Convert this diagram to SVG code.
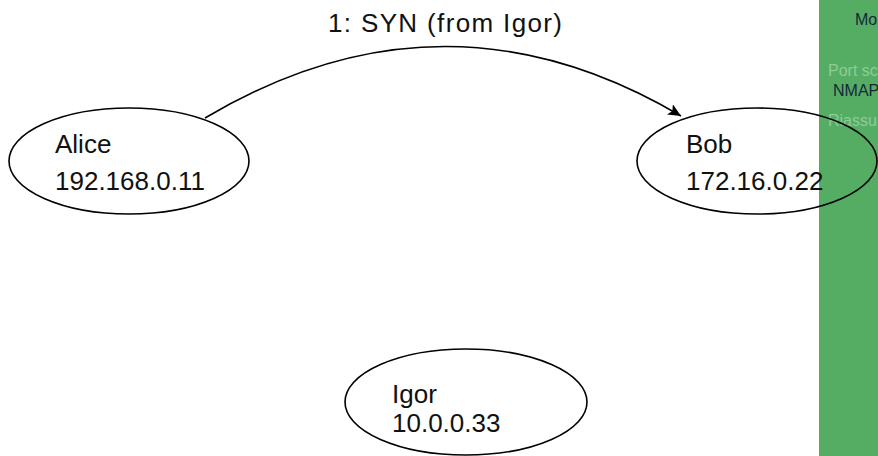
<svg xmlns="http://www.w3.org/2000/svg" width="878" height="456" viewBox="0 0 878 456">
  <style>
    .node { fill: none; stroke: #000; stroke-width: 1.6; }
    .lbl { font-family: "Liberation Sans", Arial, sans-serif; font-size: 26px; fill: #111; }
    .edge { fill: none; stroke: #000; stroke-width: 1.6; }
    .side { font-family: "Liberation Sans", Arial, sans-serif; font-size: 16px; }
    .side-on { fill: #14283a; }
    .side-off { fill: #8dcc97; }
  </style>
  <defs>
    <marker id="arrow" markerUnits="userSpaceOnUse" markerWidth="16" markerHeight="12" refX="13" refY="6" orient="auto">
      <path d="M0,0 L13,6 L0,12 L3,6 Z" fill="#000"/>
    </marker>
  </defs>

  <!-- navigation sidebar -->
  <g id="sidebar">
    <rect x="819" y="0" width="59" height="456" fill="#55ad64"/>
    <text class="side side-on" x="855" y="25">Mo</text>
    <text class="side side-off" x="828" y="76">Port sc</text>
    <text class="side side-on" x="833" y="96" font-size="14">NMAP</text>
    <text class="side side-off" x="828" y="126">Riassun</text>
  </g>

  <!-- connectors -->
  <g id="edges">
    <path class="edge" d="M205,118 Q444,-24 681,116" marker-end="url(#arrow)"/>
    <text class="lbl" x="328" y="32" textLength="234" lengthAdjust="spacing">1: SYN (from Igor)</text>
  </g>

  <!-- hosts -->
  <g id="alice">
    <ellipse class="node" cx="129" cy="161" rx="120" ry="53"/>
    <text class="lbl" x="55" y="153">Alice</text>
    <text class="lbl" x="55" y="190">192.168.0.11</text>
  </g>

  <g id="bob">
    <ellipse class="node" cx="757" cy="161" rx="120" ry="53"/>
    <text class="lbl" x="686" y="153">Bob</text>
    <text class="lbl" x="686" y="190">172.16.0.22</text>
  </g>

  <g id="igor">
    <ellipse class="node" cx="466" cy="402" rx="121" ry="53"/>
    <text class="lbl" x="392" y="403">Igor</text>
    <text class="lbl" x="392" y="432">10.0.0.33</text>
  </g>
</svg>
